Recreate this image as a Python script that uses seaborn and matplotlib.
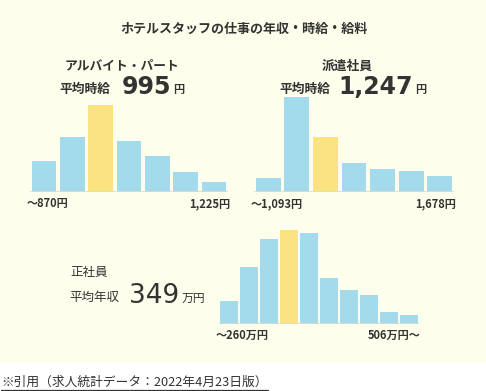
import matplotlib
matplotlib.use("Agg")
import matplotlib.pyplot as plt
import seaborn as sns
import pandas as pd
from matplotlib.patches import Rectangle
from matplotlib.lines import Line2D

sns.set_theme(style="white")
plt.rcParams['font.family'] = ['Noto Sans CJK JP', 'DejaVu Sans']

# ---- data ----
title = "ホテルスタッフの仕事の年収・時給・給料"
part_bins = ["1", "2", "3", "4", "5", "6", "7"]
part_values = [31, 55, 87, 51, 36, 20, 10]
part_highlight = 2
part_ticks = ["〜870円", "1,225円"]

haken_bins = ["1", "2", "3", "4", "5", "6", "7"]
haken_values = [14, 95, 55, 29, 23, 21, 16]
haken_highlight = 2
haken_ticks = ["〜1,093円", "1,678円"]

seisha_bins = ["1", "2", "3", "4", "5", "6", "7", "8", "9", "10"]
seisha_values = [23, 57, 85, 94, 91, 46, 34, 29, 12, 9]
seisha_highlight = 3
seisha_ticks = ["〜260万円", "506万円〜"]

footnote = "※引用（求人統計データ：2022年4月23日版）"

BLUE = "#A3DAEC"
YELLOW = "#FAE380"
CREAM = "#FEFEEC"
AXC = "#DCDCD2"
TXT = "#333333"

W, H = 486, 391
fig = plt.figure(figsize=(W / 100, H / 100), dpi=100)
fig.patch.set_facecolor("white")
fig.patches.append(Rectangle((0, 1 - 363 / H), 1, 363 / H, transform=fig.transFigure,
                             facecolor=CREAM, edgecolor="none", zorder=-5))


def fx(x):
    return x / W


def fy(y):
    return 1 - y / H


def bars(left, base, width, cats, vals, hi, ticks, height=100):
    ax = fig.add_axes([fx(left), fy(base), width / W, height / H])
    df = pd.DataFrame({"bin": cats, "value": vals})
    pal = {c: (YELLOW if i == hi else BLUE) for i, c in enumerate(cats)}
    sns.barplot(data=df, x="bin", y="value", hue="bin", palette=pal, legend=False,
                width=0.87, saturation=1, ax=ax, linewidth=0)
    ax.set_xlim(-0.5, len(cats) - 0.5)
    ax.set_ylim(0, height)
    ax.patch.set_alpha(0)
    for s in ax.spines.values():
        s.set_visible(False)
    ax.axhline(0, color=AXC, lw=1.2, zorder=5)
    ax.set_xticks([])
    ax.set_yticks([])
    ax.set_xlabel("")
    ax.set_ylabel("")
    ax.text(-0.015, -0.115, ticks[0], transform=ax.transAxes, ha="left", va="center",
            fontsize=8, color=TXT, fontweight="bold")
    ax.text(1.01, -0.115, ticks[1], transform=ax.transAxes, ha="right", va="center",
            fontsize=8, color=TXT, fontweight="bold")
    return ax


bars(30, 192, 198, part_bins, part_values, part_highlight, part_ticks)
bars(254, 192, 200, haken_bins, haken_values, haken_highlight, haken_ticks)
bars(219, 324, 200, seisha_bins, seisha_values, seisha_highlight, seisha_ticks)

# ---- texts ----
fig.text(fx(244), fy(29), title, ha="center", va="center", fontsize=9.4,
         fontweight="bold", color=TXT)

fig.text(fx(122), fy(66), "アルバイト・パート", ha="center", va="center", fontsize=9.2,
         fontweight="bold", color=TXT)
fig.text(fx(59), fy(89), "平均時給", ha="left", va="center", fontsize=9.2,
         fontweight="bold", color=TXT)
fig.text(fx(146), fy(87), "995", ha="center", va="center", fontsize=17,
         fontweight="bold", color=TXT, family="DejaVu Sans")
fig.text(fx(173), fy(90), "円", ha="left", va="center", fontsize=8,
         fontweight="bold", color=TXT)

fig.text(fx(347), fy(66), "派遣社員", ha="center", va="center", fontsize=9.2,
         fontweight="bold", color=TXT)
fig.text(fx(279), fy(89), "平均時給", ha="left", va="center", fontsize=9.2,
         fontweight="bold", color=TXT)
fig.text(fx(376), fy(87), "1,247", ha="center", va="center", fontsize=17,
         fontweight="bold", color=TXT, family="DejaVu Sans")
fig.text(fx(415), fy(90), "円", ha="left", va="center", fontsize=8,
         fontweight="bold", color=TXT)

fig.text(fx(70), fy(272), "正社員", ha="left", va="center", fontsize=9.0,
         color=TXT)
fig.text(fx(69), fy(297), "平均年収", ha="left", va="center", fontsize=9.0,
         color=TXT)
fig.text(fx(154), fy(296), "349", ha="center", va="center", fontsize=19,
         color=TXT, family="DejaVu Sans")
fig.text(fx(182), fy(298), "万円", ha="left", va="center", fontsize=8.5,
         color=TXT)

t = fig.text(fx(1), fy(382), footnote, ha="left", va="center", fontsize=9.2, color=TXT)
fig.lines.append(Line2D([fx(1), fx(268)], [fy(390), fy(390)], transform=fig.transFigure,
                        color=TXT, lw=0.9))

fig.savefig("out.png", dpi=100, facecolor=fig.get_facecolor())
